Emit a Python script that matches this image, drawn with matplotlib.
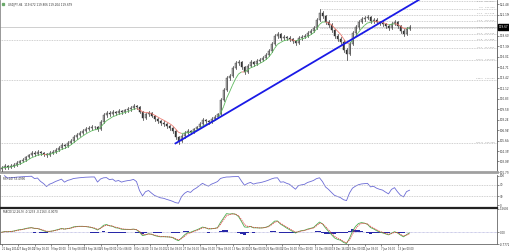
import numpy as np
import pandas as pd
import matplotlib
matplotlib.use("Agg")
import matplotlib.pyplot as plt
import matplotlib.transforms as mtransforms
from matplotlib.collections import LineCollection
from matplotlib.patches import Rectangle

# USDJPY H4 (one candle per ~3 px column)
first_open = 102.10
closes = [102.26, 102.5, 102.4, 102.5, 102.65, 102.9, 103.1, 103.25, 103.6, 103.85,
          104.1, 104.0, 104.25, 104.1, 104.0, 103.85, 104.1, 104.25, 104.5, 104.75,
          105.1, 104.95, 105.35, 105.6, 106.1, 106.35, 106.6, 106.85, 107.05, 107.2,
          107.3, 107.3, 107.1, 107.95, 108.8, 109.05, 108.9, 109.2, 109.05, 109.3,
          109.2, 109.4, 109.55, 109.65, 109.9, 109.8, 109.2, 108.45, 108.9, 109.05,
          108.7, 108.3, 108.05, 107.8, 107.7, 107.45, 107.2, 106.85, 106.1, 105.6,
          106.2, 106.6, 106.85, 106.7, 107.05, 107.3, 107.7, 108.2, 108.05, 107.95,
          108.3, 108.55, 108.9, 110.65, 111.9, 113.4, 113.6, 114.6, 115.2, 115.35,
          114.75, 114.1, 114.85, 115.35, 115.1, 115.45, 115.6, 115.85, 116.2, 116.7,
          117.55, 118.55, 118.8, 118.3, 118.45, 118.3, 118.2, 117.95, 117.7, 118.3,
          118.45, 118.55, 118.95, 119.2, 119.55, 120.55, 121.4, 121.0, 120.3, 119.9,
          119.3, 118.55, 118.2, 117.8, 116.85, 116.3, 117.55, 118.9, 119.65, 120.3,
          120.65, 120.8, 120.9, 120.4, 120.55, 120.3, 120.15, 120.05, 119.8, 119.55,
          120.05, 120.3, 119.8, 119.2, 118.8, 119.45, 119.67]
highs = [102.45, 102.7, 102.65, 102.75, 102.85, 103.1, 103.3, 103.5, 103.8, 104.05,
         104.35, 104.3, 104.5, 104.4, 104.25, 104.15, 104.3, 104.45, 104.7, 104.95,
         105.3, 105.25, 105.55, 105.85, 106.3, 106.6, 106.85, 107.05, 107.3, 107.45,
         107.55, 107.5, 107.4, 108.15, 109.0, 109.3, 109.25, 109.4, 109.35, 109.5,
         109.45, 109.6, 109.75, 109.9, 110.1, 110.05, 109.95, 109.3, 109.1, 109.25,
         109.2, 108.85, 108.45, 108.2, 108.0, 107.85, 107.6, 107.35, 107.0, 106.25,
         106.4, 106.8, 107.05, 107.0, 107.25, 107.5, 107.9, 108.4, 108.35, 108.2,
         108.5, 108.75, 109.1, 110.85, 112.1, 113.6, 113.85, 114.8, 115.45, 115.6,
         115.5, 114.9, 115.05, 115.55, 115.5, 115.65, 115.85, 116.05, 116.45, 116.9,
         117.75, 118.8, 119.05, 118.95, 118.7, 118.6, 118.5, 118.35, 118.1, 118.5,
         118.7, 118.8, 119.15, 119.45, 119.8, 120.75, 121.85, 121.6, 121.15, 120.5,
         120.1, 119.45, 118.75, 118.4, 118.0, 117.05, 117.75, 119.1, 119.85, 120.5,
         120.85, 121.0, 121.15, 121.05, 120.8, 120.7, 120.45, 120.35, 120.2, 119.95,
         120.25, 120.5, 120.45, 119.95, 119.35, 119.65, 119.85]
lows = [101.95, 102.1, 102.2, 102.25, 102.35, 102.5, 102.75, 102.95, 103.1, 103.45,
        103.7, 103.8, 103.85, 103.9, 103.75, 103.6, 103.7, 103.95, 104.1, 104.35,
        104.6, 104.75, 104.8, 105.2, 105.45, 105.9, 106.15, 106.45, 106.65, 106.9,
        107.0, 107.05, 106.85, 106.95, 107.8, 108.6, 108.65, 108.75, 108.85, 108.9,
        108.95, 109.05, 109.2, 109.35, 109.5, 109.55, 109.0, 108.2, 108.3, 108.7,
        108.5, 108.1, 107.85, 107.6, 107.5, 107.25, 107.0, 106.6, 105.85, 105.25,
        105.45, 106.0, 106.45, 106.5, 106.55, 106.9, 107.15, 107.55, 107.85, 107.75,
        107.8, 108.15, 108.4, 108.75, 110.5, 111.75, 113.15, 113.45, 114.45, 115.0,
        114.5, 113.85, 113.95, 114.7, 114.9, 114.95, 115.3, 115.45, 115.7, 116.05,
        116.55, 117.4, 118.35, 118.05, 118.1, 118.05, 117.95, 117.7, 117.45, 117.55,
        118.1, 118.25, 118.4, 118.8, 119.05, 119.4, 120.4, 120.75, 120.05, 119.65,
        119.05, 118.3, 117.95, 117.5, 116.6, 115.6, 116.15, 117.4, 118.7, 119.45,
        120.1, 120.45, 120.6, 120.15, 120.2, 120.05, 119.9, 119.8, 119.55, 119.3,
        119.4, 119.85, 119.55, 118.95, 118.55, 118.65, 119.3]

price_ticks = [101.770, 103.065, 104.359, 105.654, 106.949, 108.243, 109.538, 110.833,
               112.127, 113.422, 114.717, 116.012, 117.306, 118.601, 121.190, 122.485]

# trend line anchors (bar, price)
trend_bars = [58, 135]
trend_prices = [105.3, 122.1]

# fibonacci drawn from the December top to the mid-December low
fib_start_bar = 106
fib_high = 121.90
fib_low = 115.57
fib_ratios = [-0.146, 0.0, 0.114, 0.236, 0.382, 0.5, 0.618, 0.764, 1.0, 1.382, 2.618]
fib_full_width = [0.618, 1.382, 2.618]

date_labels = ["21 Aug 2014", "27 Aug 08:00", "2 Sep 16:00", "9 Sep 00:00", "15 Sep 08:00",
               "19 Sep 16:00", "26 Sep 00:00", "2 Oct 08:00", "8 Oct 16:00", "15 Oct 00:00",
               "21 Oct 08:00", "27 Oct 16:00", "3 Nov 00:00", "7 Nov 08:00", "13 Nov 16:00",
               "20 Nov 00:00", "26 Nov 08:00", "2 Dec 16:00", "9 Dec 00:00", "15 Dec 08:00",
               "19 Dec 16:00", "26 Dec 00:00", "1 Jan 08:00", "7 Jan 16:00", "13 Jan 00:00"]

header = "USDJPY,H4  119.672 119.806 119.204 119.679"

W, H = 510, 252
fig = plt.figure(figsize=(W / 100, H / 100), dpi=100)
fig.patch.set_facecolor("white")


def px_axes(x0, y0, x1, y1):
    return fig.add_axes([x0 / W, 1 - y1 / H, (x1 - x0) / W, (y1 - y0) / H])


ax = px_axes(0, 0, 497, 172)
ax_rsi = px_axes(0, 175, 497, 207)
ax_macd = px_axes(0, 208, 497, 244)

n = len(closes)
bars = np.arange(n)
opens = [first_open] + closes[:-1]
xmax = 497 / 3 - 0.5
fs = 2.0
tc = "#333333"
ytop = 122.98

# ---- main price panel
for i in range(n):
    o, c = opens[i], closes[i]
    ax.plot([i, i], [min(lows[i], o, c), max(highs[i], o, c)], color="#333333", lw=0.5, zorder=3)
    lo, hi = min(o, c), max(o, c)
    face = "#d8d8d8" if c >= o else "#333333"
    ax.add_patch(Rectangle((i - 0.3, lo), 0.6, max(hi - lo, 0.03), facecolor=face,
                           edgecolor="#333333", lw=0.3, zorder=4))

s = pd.Series(closes)
ma = s.ewm(span=6, adjust=False).mean().values
segs = [[(i - 1, ma[i - 1]), (i, ma[i])] for i in range(1, n)]
cols = ["#5cb85c" if ma[i] >= ma[i - 1] else "#e8756b" for i in range(1, n)]
ax.add_collection(LineCollection(segs, colors=cols, linewidths=0.6, zorder=5))

slope = (trend_prices[1] - trend_prices[0]) / (trend_bars[1] - trend_bars[0])
tx = np.array([trend_bars[0], xmax + 5])
ax.plot(tx, trend_prices[0] + slope * (tx - trend_bars[0]), color="#1a1ae6", lw=1.3, zorder=6)

span = fib_high - fib_low
for r in fib_ratios:
    p = fib_high - r * span
    x0 = -0.5 if r in fib_full_width else fib_start_bar
    ax.plot([x0, xmax], [p, p], color="#b4b4b4", lw=0.5, ls=(0, (1.2, 1.2)), zorder=1)
    ax.text(xmax - 0.8, min(p + 0.04, ytop - 0.3), f"{r * 100:.1f}   {p:.3f}", fontsize=1.7,
            color="#9a9a9a", ha="right", va="bottom", zorder=2)

ax.axhline(closes[-1], color="#c8c8c8", lw=0.6, zorder=1)

ax.set_xlim(-0.5, xmax)
ax.set_ylim(101.77, ytop)
ax.yaxis.tick_right()
ax.set_yticks(price_ticks)
ax.set_yticklabels([f"{v:.3f}" for v in price_ticks])
ax.tick_params(axis="y", labelsize=fs, length=1.5, width=0.4, pad=0.6, colors=tc)
ax.set_xticks([])
trans = mtransforms.blended_transform_factory(ax.transAxes, ax.transData)
ax.text(1.003, closes[-1], f"{closes[-1]:.2f}", transform=trans, fontsize=fs, color="white",
        ha="left", va="center", zorder=10, clip_on=False,
        bbox=dict(boxstyle="square,pad=0.3", facecolor="black", edgecolor="black"))
ax.text(0.016, 0.985, header, transform=ax.transAxes, fontsize=2.0, color=tc, ha="left", va="top")
ax.plot([0.007], [0.978], marker="s", ms=1.4, color="#6aa96a", transform=ax.transAxes, clip_on=False)

ax.spines["top"].set_visible(False)
ax.spines["bottom"].set_color("#a0a0a0")
ax.spines["bottom"].set_linewidth(2.0)
ax.spines["left"].set_color("#888888")
ax.spines["left"].set_linewidth(0.6)
ax.spines["right"].set_color("#555555")
ax.spines["right"].set_linewidth(0.6)

# ---- RSI panel
delta = s.diff()
gain = delta.clip(lower=0).ewm(alpha=1 / 6, adjust=False).mean()
loss = (-delta.clip(upper=0)).ewm(alpha=1 / 6, adjust=False).mean()
rsi = 100 - 100 / (1 + gain / loss)
ax_rsi.plot(bars, rsi, color="#6b6bd6", lw=0.6)
for lvl in (70, 30):
    ax_rsi.axhline(lvl, color="#b4b4b4", lw=0.5, ls=(0, (1.2, 1.2)))
ax_rsi.set_xlim(-0.5, xmax)
ax_rsi.set_ylim(-6, 102.5)
ax_rsi.yaxis.tick_right()
ax_rsi.set_yticks([0, 30, 70, 100])
ax_rsi.tick_params(axis="y", labelsize=fs, length=1.5, width=0.4, pad=0.6, colors=tc)
ax_rsi.set_xticks([])
ax_rsi.text(0.006, 0.95, "RSI(14) 53.4990", transform=ax_rsi.transAxes, fontsize=2.0, color=tc,
            ha="left", va="top")
ax_rsi.spines["top"].set_visible(False)
ax_rsi.spines["bottom"].set_color("#222222")
ax_rsi.spines["bottom"].set_linewidth(0.9)
for side in ("left", "right"):
    ax_rsi.spines[side].set_color("#666666")
    ax_rsi.spines[side].set_linewidth(0.6)

# ---- MACD panel
ema_fast = s.ewm(span=3, adjust=False).mean()
ema_slow = s.ewm(span=6, adjust=False).mean()
macd = ema_fast - ema_slow
signal = macd.ewm(span=2, adjust=False).mean()
hist = macd - signal
ax_macd.bar(bars, hist, width=0.9, color="#2828a8", zorder=2)
ax_macd.axhline(0, color="#8080c8", lw=0.4, ls=(0, (1.2, 1.2)), zorder=1)
ax_macd.plot(bars, macd, color="#4caf50", lw=0.6, zorder=3)
ax_macd.plot(bars, signal, color="#e04040", lw=0.6, ls=(0, (1.5, 1)), zorder=3)
ax_macd.set_xlim(-0.5, xmax)
ax_macd.set_ylim(-0.7772, 1.62)
ax_macd.yaxis.tick_right()
ax_macd.set_yticks([-0.7772, 0.0, 1.5605])
ax_macd.set_yticklabels(["-0.7772", "0.00", "1.5605"])
ax_macd.tick_params(axis="y", labelsize=fs, length=1.5, width=0.4, pad=0.6, colors=tc)
ax_macd.set_xticks(np.arange(len(date_labels)) * 5.5)
ax_macd.set_xticklabels(date_labels, ha="left")
ax_macd.tick_params(axis="x", labelsize=1.8, length=1.5, width=0.4, pad=0.8, colors=tc)
ax_macd.text(0.006, 0.95, "MACD(12,26,9) -0.1233 -0.1163 -0.0070", transform=ax_macd.transAxes,
             fontsize=2.0, color=tc, ha="left", va="top")
ax_macd.spines["top"].set_color("#222222")
ax_macd.spines["top"].set_linewidth(0.9)
for side in ("left", "right", "bottom"):
    ax_macd.spines[side].set_color("#666666")
    ax_macd.spines[side].set_linewidth(0.6)

fig.savefig("out.png", dpi=100, facecolor="white")
